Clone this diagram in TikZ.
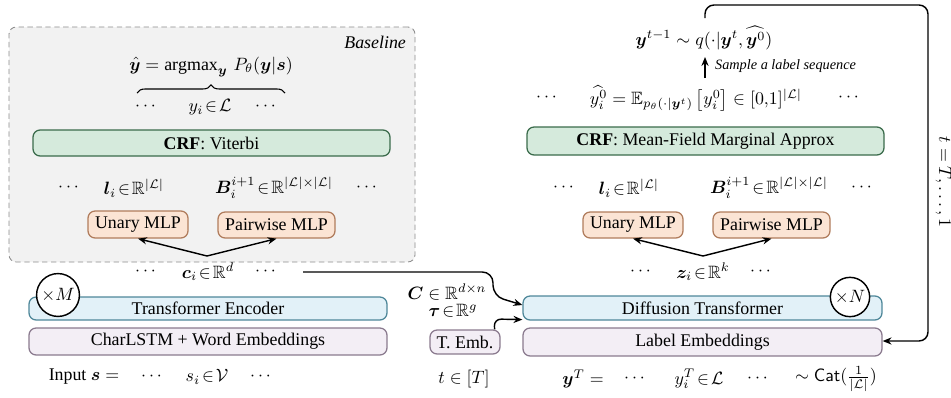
\documentclass[tikz,border=0pt]{standalone}
\usepackage{amsmath,amssymb}
\usepackage{fontspec}
\setmainfont{Liberation Serif}
\usepackage{bm}
\usetikzlibrary{arrows.meta,decorations.pathreplacing,fit,calc}
\definecolor{panelfill}{HTML}{F2F2F2}
\definecolor{panelline}{HTML}{8C8C8C}
\definecolor{crffill}{HTML}{D5EADC}
\definecolor{crfline}{HTML}{3A6B4B}
\definecolor{mlpfill}{HTML}{FBE4D4}
\definecolor{mlpline}{HTML}{B07C5C}
\definecolor{encfill}{HTML}{E2F1F8}
\definecolor{encline}{HTML}{4E8799}
\definecolor{embfill}{HTML}{F3EEF5}
\definecolor{embline}{HTML}{8A7A8E}
\begin{document}
\begin{tikzpicture}[x=0.56pt,y=-0.56pt,
  every node/.style={font=\fontsize{10}{12}\selectfont, inner sep=1pt},
  panel/.style={draw=panelline, fill=panelfill, dash pattern=on 3pt off 2pt, rounded corners=4pt, line width=0.5pt, inner sep=0pt},
  blk/.style={draw, rounded corners=4pt, line width=0.7pt, inner sep=0pt},
  crfbox/.style={blk, draw=crfline, fill=crffill},
  mlpbox/.style={blk, draw=mlpline, fill=mlpfill},
  encbox/.style={blk, draw=encline, fill=encfill},
  embbox/.style={blk, draw=embline, fill=embfill},
  rep/.style={circle, draw, fill=white, line width=0.8pt, inner sep=0pt},
  arr/.style={-{Stealth[length=5pt,width=4pt]}, line width=0.8pt},
  small/.style={font=\fontsize{8}{9.5}\selectfont\itshape}]
\useasboundingbox (0,0) rectangle (951,397);
\clip (0,0) rectangle (951,397);

% ---------- Baseline panel ----------
\node[panel, fit={(9,27)(415,262)}] (panel) {};
\node[anchor=east, font=\fontsize{10}{12}\selectfont\itshape] (baseline) at (408,42) {Baseline};
\node (ytop) at (211,67) {$\hat{\bm{y}} = \operatorname{argmax}_{\bm{y}}\, P_\theta(\bm{y}|\bm{s})$};
\coordinate (bl) at (137,93);
\coordinate (br) at (285,93);
\draw[decorate, decoration={brace, amplitude=4.5pt}, line width=0.6pt] (bl) -- (br);
\node (yd1) at (147,107) {$\cdots$};
\node (yi) at (210,107) {$y_i\!\in\!\mathcal{L}$};
\node (yd2) at (267,107) {$\cdots$};
\node[crfbox, fit={(33,130)(390,156)}, label={[name=crfLt]center:\textbf{CRF}: Viterbi}] (crfL) {};
\node (ld1L) at (70,188) {$\cdots$};
\node (liL) at (134,188) {$\bm{l}_i\!\in\!\mathbb{R}^{|\mathcal{L}|}$};
\node (BiL) at (274,188) {$\bm{B}_i^{i+1}\!\in\!\mathbb{R}^{|\mathcal{L}|\times|\mathcal{L}|}$};
\node (ld2L) at (368,188) {$\cdots$};
\node[mlpbox, fit={(88,211)(188,238)}, label={[name=unaryLt]center:Unary MLP}] (unaryL) {};
\node[mlpbox, fit={(218,212)(335,238)}, label={[name=pairLt]center:Pairwise MLP}] (pairL) {};
\coordinate (splitL) at (207,256);
\draw[arr] (splitL) -- (unaryL.south);
\draw[arr] (splitL) -- (pairL.south);

% ---------- Encoder ----------
\node (cd1) at (147,272) {$\cdots$};
\node (ci) at (208,272) {$\bm{c}_i\!\in\!\mathbb{R}^{d}$};
\node (cd2) at (267,272) {$\cdots$};
\node[encbox, fit={(29,297)(387,320)}, label={[name=enct]center:Transformer Encoder}] (enc) {};
\node[embbox, fit={(29,328)(387,355)}, label={[name=embLt]center:CharLSTM + Word Embeddings}] (embL) {};
\node[rep, minimum size=24pt] (xM) at (58,295) {$\times M$};
\node (inlbl) at (84,377) {Input $\bm{s} =$};
\node (sd1) at (153,377) {$\cdots$};
\node (si) at (207,377) {$s_i\!\in\!\mathcal{V}$};
\node (sd2) at (262,377) {$\cdots$};

% ---------- Diffusion side ----------
\node[encbox, fit={(523,296)(882,320)}, label={[name=difft]center:Diffusion Transformer}] (diff) {};
\node[embbox, fit={(523,328)(882,356)}, label={[name=lembt]center:Label Embeddings}] (lemb) {};
\node[rep, minimum size=22pt] (xN) at (850,297) {$\times N$};
\node[embbox, fit={(430,330)(500,354)}, label={[name=tembt]center:T. Emb.}] (temb) {};
\node (Clbl) at (447,292) {$\bm{C} \in \mathbb{R}^{d\times n}$};
\node (taulbl) at (453,311) {$\bm{\tau}\!\in\!\mathbb{R}^{g}$};
\node (tT) at (464,379) {$t \in [T]$};
\node (yTlbl) at (583,379) {$\bm{y}^T =$};
\node (yTd1) at (636,379) {$\cdots$};
\node (yiT) at (699,379) {$y_i^T\!\in\!\mathcal{L}$};
\node (yTd2) at (759,379) {$\cdots$};
\node (cat) at (836,379) {$\sim \mathsf{Cat}(\frac{1}{|\mathcal{L}|})$};

\coordinate (cstart) at (303,272);
\draw[arr, rounded corners=6pt] (cstart) -- (493,272) -- (493,296) -- ($(diff.west)+(0,-3)$);
\draw[arr, rounded corners=4pt] ($(temb.north east)+(-6,0)$) -- (494,319) -- ($(diff.south west)+(0,-1)$);

\node (zd1) at (642,272) {$\cdots$};
\node (zi) at (703,272) {$\bm{z}_i\!\in\!\mathbb{R}^{k}$};
\node (zd2) at (762,272) {$\cdots$};
\node[mlpbox, fit={(583,212)(683,238)}, label={[name=unaryRt]center:Unary MLP}] (unaryR) {};
\node[mlpbox, fit={(713,212)(830,238)}, label={[name=pairRt]center:Pairwise MLP}] (pairR) {};
\coordinate (splitR) at (703,256);
\draw[arr] (splitR) -- (unaryR.south);
\draw[arr] (splitR) -- (pairR.south);
\node (ld1R) at (565,188) {$\cdots$};
\node (liR) at (629,188) {$\bm{l}_i\!\in\!\mathbb{R}^{|\mathcal{L}|}$};
\node (BiR) at (769,188) {$\bm{B}_i^{i+1}\!\in\!\mathbb{R}^{|\mathcal{L}|\times|\mathcal{L}|}$};
\node (ld2R) at (863,188) {$\cdots$};
\node[crfbox, fit={(527,127)(884,155)}, label={[name=crfRt]center:\textbf{CRF}: Mean-Field Marginal Approx}] (crfR) {};
\node (hd1) at (548,98) {$\cdots$};
\node (hat0) at (696,98) {$\widehat{y_i^0} = \mathbb{E}_{p_\theta(\cdot|\bm{y}^t)}\,\big[y_i^0\big] \in [0{,}1]^{|\mathcal{L}|}$};
\node (hd2) at (850,98) {$\cdots$};
\coordinate (sa0) at (705,78);
\coordinate (sa1) at (705,57);
\draw[arr] (sa0) -- (sa1);
\node[small, anchor=west] (samp) at (713,66) {Sample a label sequence};
\node (ytm1) at (704,38) {$\bm{y}^{t-1} \sim q(\cdot|\bm{y}^t, \widehat{\bm{y}^0})$};
\coordinate (lp0) at (705,18);
\draw[arr, rounded corners=5pt] (lp0) -- (705,5) -- (928,5) -- (928,341) -- ($(lemb.east)+(0,-1)$);
\node[rotate=-90, anchor=base] (tloop) at (939,182) {$t = T,\ldots,1$};
\end{tikzpicture}
\end{document}
